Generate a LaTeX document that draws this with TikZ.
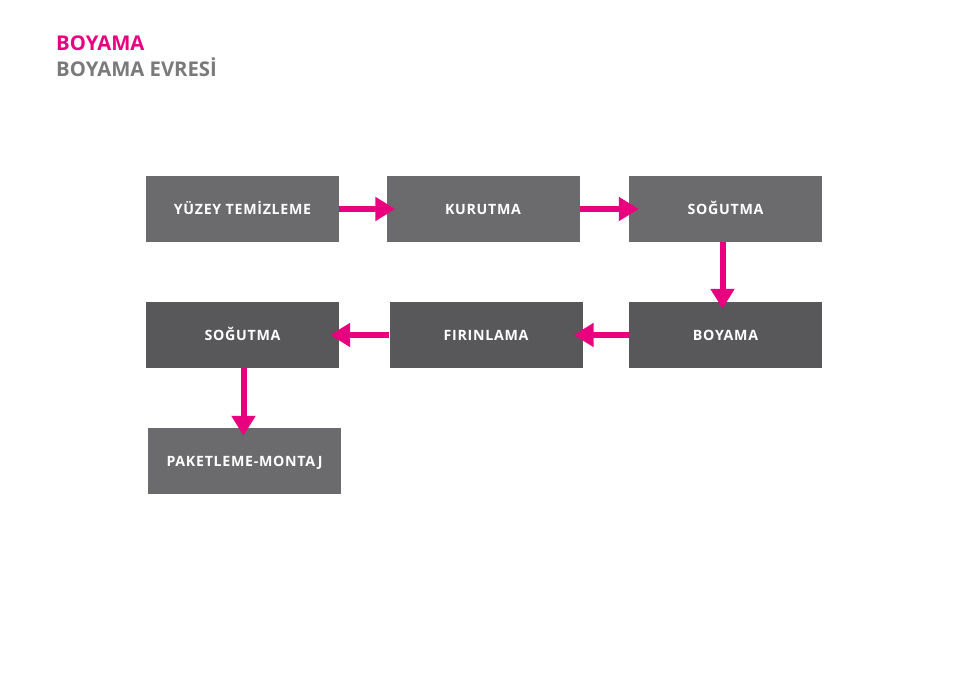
\documentclass[tikz,border=0pt]{standalone}
\usepackage{fontspec}
\setmainfont{Open Sans}
\newfontfamily\lblfont[LetterSpace=5]{Open Sans}
\usetikzlibrary{arrows.meta}
\definecolor{mag}{HTML}{E8007F}
\definecolor{boxa}{HTML}{6B6B6E}
\definecolor{boxb}{HTML}{58585A}
\definecolor{ttlgray}{HTML}{7A7A7A}
\begin{document}
\begin{tikzpicture}[x=1pt,y=-1pt,
  stepbox/.style={minimum width=193pt,minimum height=66pt,inner sep=0pt,
    text height=10.3pt,text depth=0pt,
    text=white,font=\lblfont\bfseries\fontsize{14.2}{15}\selectfont},
  ttl/.style={anchor=base west,inner sep=0pt,font=\bfseries\fontsize{20.3}{21}\selectfont},
  flow/.style={draw=mag,line width=6pt,-{Triangle[length=20pt,width=23pt]}}]
\useasboundingbox (0,0) rectangle (960,684);
\node[ttl,text=mag] (t1) at (56,50.5) {BOYAMA};
\node[ttl,text=ttlgray] (t2) at (56,77) {BOYAMA EVRESİ};
\node[stepbox,fill=boxa] (a) at (242.5,209) {YÜZEY TEMİZLEME};
\node[stepbox,fill=boxa] (b) at (483,209) {KURUTMA};
\node[stepbox,fill=boxa] (c) at (725.5,209) {SOĞUTMA};
\node[stepbox,fill=boxb] (d) at (725.5,335) {BOYAMA};
\node[stepbox,fill=boxb] (e) at (486,335) {FIRINLAMA};
\node[stepbox,fill=boxb] (f) at (242.5,335) {SOĞUTMA};
\node[stepbox,fill=boxa] (g) at (244.5,461) {PAKETLEME-MONTAJ};
\draw[flow] (a.east) -- ([xshift=9pt]b.west);
\draw[flow] (b.east) -- ([xshift=10pt]c.west);
\draw[flow] ([xshift=-3pt]c.south) -- ([xshift=-3pt,yshift=-7pt]d.north);
\draw[flow] (d.west) -- ([xshift=-9pt]e.east);
\draw[flow] (e.west) -- ([xshift=-9pt]f.east);
\draw[flow] ([xshift=1pt]f.south) -- ([xshift=1pt,yshift=-8pt]f.south |- g.north);
\end{tikzpicture}
\end{document}
